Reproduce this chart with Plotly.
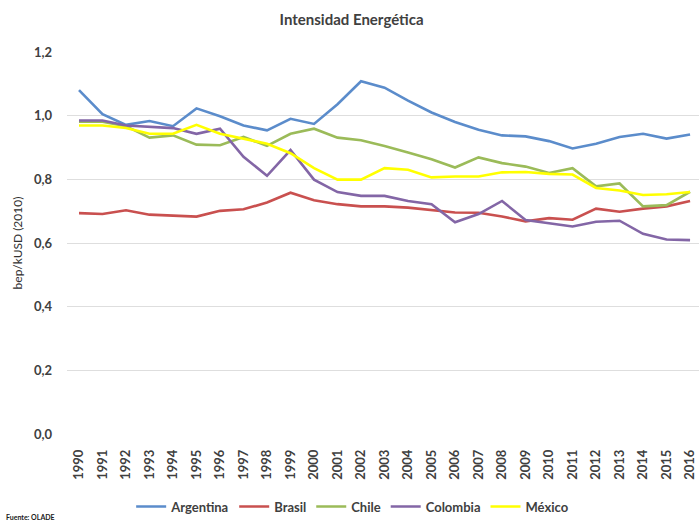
import plotly.graph_objects as go

years = list(range(1990, 2017))

argentina = [1.080, 1.005, 0.971, 0.983, 0.967, 1.023, 0.998, 0.969, 0.954, 0.990,
             0.974, 1.036, 1.108, 1.088, 1.047, 1.010, 0.980, 0.956, 0.938, 0.935,
             0.920, 0.897, 0.912, 0.933, 0.943, 0.928, 0.941]
brasil = [0.694, 0.691, 0.703, 0.689, 0.686, 0.683, 0.701, 0.706, 0.727, 0.758,
          0.734, 0.722, 0.715, 0.715, 0.711, 0.703, 0.696, 0.695, 0.683, 0.668,
          0.678, 0.673, 0.708, 0.698, 0.708, 0.715, 0.732]
chile = [0.981, 0.981, 0.967, 0.931, 0.938, 0.909, 0.907, 0.933, 0.905, 0.943,
         0.959, 0.931, 0.923, 0.905, 0.884, 0.863, 0.837, 0.869, 0.851, 0.840,
         0.820, 0.835, 0.778, 0.787, 0.715, 0.719, 0.761]
colombia = [0.985, 0.985, 0.969, 0.966, 0.961, 0.943, 0.959, 0.871, 0.811, 0.892,
            0.799, 0.760, 0.748, 0.748, 0.732, 0.722, 0.665, 0.691, 0.732, 0.672,
            0.662, 0.652, 0.667, 0.670, 0.629, 0.611, 0.609]
mexico = [0.969, 0.969, 0.961, 0.943, 0.943, 0.971, 0.943, 0.928, 0.912, 0.882,
          0.835, 0.799, 0.799, 0.835, 0.830, 0.806, 0.809, 0.809, 0.822, 0.823,
          0.817, 0.815, 0.773, 0.765, 0.751, 0.753, 0.760]

series = [
    ("Argentina", argentina, "#5b8ccb"),
    ("Brasil", brasil, "#c9504f"),
    ("Chile", chile, "#9bbb59"),
    ("Colombia", colombia, "#8366a6"),
    ("México", mexico, "#ffff00"),
]

yticks = [0.0, 0.2, 0.4, 0.6, 0.8, 1.0, 1.2]

fig = go.Figure()
for name, vals, color in series:
    fig.add_trace(go.Scatter(
        x=years, y=vals, name=f"<b>{name}</b>", mode="lines",
        line=dict(color=color, width=2.6),
    ))

font_family = "Lato, 'Open Sans', sans-serif"
text_color = "#404040"

fig.update_layout(
    width=699, height=522,
    margin=dict(l=67, r=0, t=52, b=82),
    paper_bgcolor="white", plot_bgcolor="white",
    separators=",.",
    font=dict(family=font_family, color=text_color, size=12),
    title=dict(text="<b>Intensidad Energética</b>", x=0.503, xanchor="center",
               y=0.962, yanchor="middle",
               font=dict(size=15, color=text_color, family=font_family)),
    showlegend=True,
    legend=dict(orientation="h", x=0.452, xanchor="center", y=-0.19, yanchor="middle",
                font=dict(size=13, color=text_color, family=font_family),
                itemwidth=30, traceorder="normal", bgcolor="rgba(0,0,0,0)"),
    xaxis=dict(
        range=[1989.49, 2016.38], tickmode="array", tickvals=years,
        ticktext=[f"<b>{y}</b>" for y in years], tickangle=-90,
        showgrid=False, zeroline=False, showline=False, ticks="",
        ticklabelstandoff=12,
        tickfont=dict(size=13, color=text_color),
    ),
    yaxis=dict(
        range=[0, 1.2], tickmode="array", tickvals=yticks,
        ticktext=[f"<b>{v:.1f}</b>".replace(".", ",") for v in yticks],
        showgrid=True, gridcolor="#dedede", gridwidth=1,
        zeroline=False, showline=False, ticks="",
        ticklabelstandoff=14,
        tickfont=dict(size=13, color=text_color),
        title=dict(text="bep/kUSD (2010)", standoff=8,
                   font=dict(size=12, color="#303030")),
    ),
    annotations=[dict(
        text="<b>Fuente: OLADE</b>", xref="paper", yref="paper",
        x=-67 / 632, y=-82 / 388, xanchor="left", yanchor="bottom",
        showarrow=False, font=dict(size=7, color="#202020", family=font_family),
        xshift=4, yshift=-8,
    )],
)

fig.write_html("out.html")
